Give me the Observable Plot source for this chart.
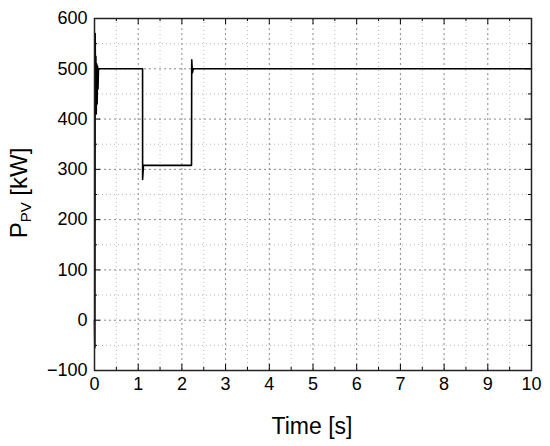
<!DOCTYPE html>
<html>
<head>
<meta charset="utf-8">
<script src="https://cdn.jsdelivr.net/npm/d3@7"></script>
<script src="https://cdn.jsdelivr.net/npm/@observablehq/plot@0.6"></script>
<style>
  html, body { margin: 0; padding: 0; background: #fff; }
  #chart svg { display: block; }
</style>
</head>
<body>
<div id="chart"></div>
<script>
// Time samples [s] and PV power [kW]
const time = [0, 0.008, 0.016, 0.024, 0.032, 0.04, 0.05, 0.06, 0.07, 0.08, 0.09, 0.1,
  1.1, 1.101, 1.12, 2.22, 2.225, 2.24, 2.26, 10];
const power = [0, -55, 570, 420, 525, 410, 510, 430, 505, 460, 500, 500,
  500, 280, 308, 308, 518, 492, 500, 500];

const xMajor = [0, 1, 2, 3, 4, 5, 6, 7, 8, 9, 10];
const xMinor = [0.5, 1.5, 2.5, 3.5, 4.5, 5.5, 6.5, 7.5, 8.5, 9.5];
const yMajor = [-100, 0, 100, 200, 300, 400, 500, 600];
const yMinor = [-50, 50, 150, 250, 350, 450, 550];

const data = time.map((t, i) => ({t, p: power[i]}));
const xDom = [0, 10], yDom = [-100, 600];
const font = "Liberation Sans, Arial, Helvetica, sans-serif";

const plot = Plot.plot({
  width: 550,
  height: 446,
  marginLeft: 94,
  marginRight: 19,
  marginTop: 18,
  marginBottom: 76,
  style: {fontFamily: font, fontSize: "18px", color: "#000", background: "#fff"},
  x: {domain: xDom, label: null},
  y: {domain: yDom, label: null},
  marks: [
    // minor grid
    Plot.ruleX(xMinor, {stroke: "#bbb", strokeDasharray: "1,3", strokeWidth: 1}),
    Plot.ruleY(yMinor, {stroke: "#bbb", strokeDasharray: "1,3", strokeWidth: 1}),
    // major grid
    Plot.ruleX(xMajor.slice(1, -1), {stroke: "#888", strokeDasharray: "2,3", strokeWidth: 1}),
    Plot.ruleY(yMajor.slice(1, -1), {stroke: "#888", strokeDasharray: "2,3", strokeWidth: 1}),
    // inward ticks bottom / top
    Plot.ruleX(xMajor, {x: d => d, y1: yDom[0], y2: yDom[0], insetTop: -6, stroke: "#000"}),
    Plot.ruleX(xMinor, {x: d => d, y1: yDom[0], y2: yDom[0], insetTop: -3, stroke: "#000"}),
    Plot.ruleX(xMajor, {x: d => d, y1: yDom[1], y2: yDom[1], insetBottom: -6, stroke: "#000"}),
    Plot.ruleX(xMinor, {x: d => d, y1: yDom[1], y2: yDom[1], insetBottom: -3, stroke: "#000"}),
    // inward ticks left / right
    Plot.ruleY(yMajor, {y: d => d, x1: xDom[0], x2: xDom[0], insetRight: -6, stroke: "#000"}),
    Plot.ruleY(yMinor, {y: d => d, x1: xDom[0], x2: xDom[0], insetRight: -3, stroke: "#000"}),
    Plot.ruleY(yMajor, {y: d => d, x1: xDom[1], x2: xDom[1], insetLeft: -6, stroke: "#000"}),
    Plot.ruleY(yMinor, {y: d => d, x1: xDom[1], x2: xDom[1], insetLeft: -3, stroke: "#000"}),
    Plot.axisX(xMajor, {tickSize: 0, tickPadding: 7, fontSize: 18, label: null}),
    Plot.axisY(yMajor, {tickSize: 0, tickPadding: 7, fontSize: 18, label: null}),
    Plot.line(data, {x: "t", y: "p", stroke: "#000", strokeWidth: 1.6}),
    Plot.frame({stroke: "#222", strokeWidth: 1.5})
  ]
});

const svg = d3.select(plot);
// x axis title
svg.append("text")
  .attr("x", 312).attr("y", 434)
  .attr("text-anchor", "middle")
  .attr("font-family", font).attr("font-size", 23)
  .text("Time [s]");
// y axis title with subscript
const yt = svg.append("text")
  .attr("transform", "translate(27,193) rotate(-90)")
  .attr("text-anchor", "middle")
  .attr("font-family", font).attr("font-size", 24);
yt.append("tspan").text("P");
yt.append("tspan").attr("font-size", 15).attr("dy", 4).text("PV");
yt.append("tspan").attr("dy", -4).text(" [kW]");

document.getElementById("chart").appendChild(plot);
</script>
</body>
</html>
